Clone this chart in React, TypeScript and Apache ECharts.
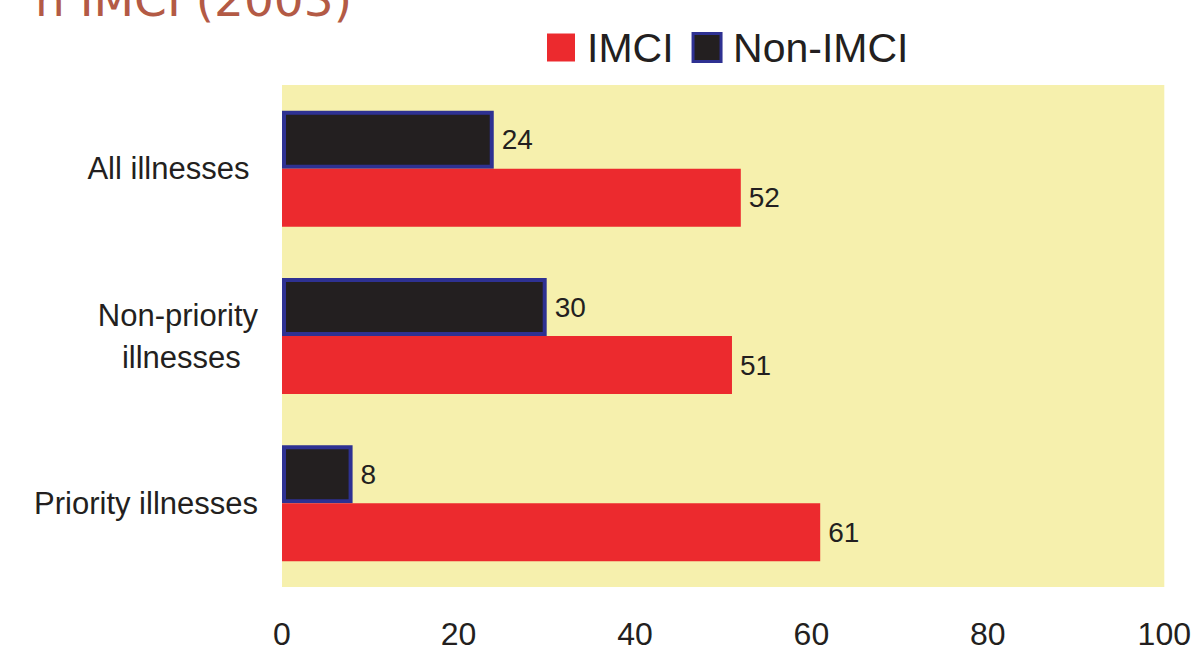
import React, { useEffect, useRef } from "react";
import * as echarts from "echarts";

const categories = ["Priority illnesses", "Non-priority illnesses", "All illnesses"];
const imciValues = [61, 51, 52];
const nonImciValues = [8, 30, 24];
const xTicks = [0, 20, 40, 60, 80, 100];
const titleText = "n IMCI (2003)";

const labelText: Record<string, string> = {
  "Priority illnesses": "Priority illnesses",
  "Non-priority illnesses": "Non-priority\nillnesses\u00a0\u00a0",
  "All illnesses": "All illnesses\u00a0",
};

export default function App() {
  const ref = useRef<HTMLDivElement>(null);
  useEffect(() => {
    if (!ref.current) return;
    const chart = echarts.init(ref.current, undefined, { renderer: "svg" });
    const font = "'Liberation Sans', Arial, sans-serif";
    const valueLabel = {
      show: true,
      position: "right",
      distance: 8,
      fontSize: 28,
      color: "#231f20",
      fontFamily: font,
    };
    chart.setOption({
      animation: false,
      textStyle: { fontFamily: font },
      graphic: [
        {
          type: "text",
          right: 1194 - 352,
          top: -24,
          style: {
            text: titleText,
            font: "47px 'DejaVu Sans', sans-serif",
            fill: "#b35a45",
          },
        },
      ],
      legend: {
        left: 547,
        top: 27,
        padding: 0,
        itemWidth: 28,
        itemHeight: 28,
        itemGap: 18,
        icon: "rect",
        textStyle: { fontSize: 41, color: "#231f20", fontFamily: font, padding: [0, 0, 0, 7] },
        data: [
          { name: "IMCI", itemStyle: { color: "#ec2a2e", borderWidth: 0 } },
          { name: "Non-IMCI", itemStyle: { color: "#231f20", borderColor: "#2e3192", borderWidth: 3 } },
        ],
      },
      grid: {
        left: 282,
        right: 24,
        top: 85,
        bottom: 63,
        show: true,
        backgroundColor: "#f6f0ad",
        borderWidth: 0,
      },
      xAxis: {
        type: "value",
        min: xTicks[0],
        max: xTicks[xTicks.length - 1],
        interval: xTicks[1] - xTicks[0],
        axisLine: { show: false },
        axisTick: { show: false },
        splitLine: { show: false },
        axisLabel: { fontSize: 32, color: "#231f20", margin: 31, fontFamily: font },
      },
      yAxis: {
        type: "category",
        data: categories,
        axisLine: { show: false },
        axisTick: { show: false },
        axisLabel: {
          fontSize: 31,
          color: "#231f20",
          margin: 24,
          lineHeight: 42,
          fontFamily: font,
          formatter: (v: string) => labelText[v] ?? v,
        },
      },
      series: [
        {
          name: "Non-IMCI",
          type: "bar",
          data: nonImciValues,
          barWidth: 58,
          barGap: "0%",
          itemStyle: { color: "#231f20", borderColor: "#2e3192", borderWidth: 4 },
          label: valueLabel,
        },
        {
          name: "IMCI",
          type: "bar",
          data: imciValues,
          barWidth: 58,
          barGap: "0%",
          itemStyle: { color: "#ec2a2e" },
          label: valueLabel,
        },
      ],
    });
    return () => chart.dispose();
  }, []);
  return (
    <div
      ref={ref}
      style={{ position: "fixed", left: 0, top: 0, width: 1194, height: 650, background: "#fff" }}
    />
  );
}
